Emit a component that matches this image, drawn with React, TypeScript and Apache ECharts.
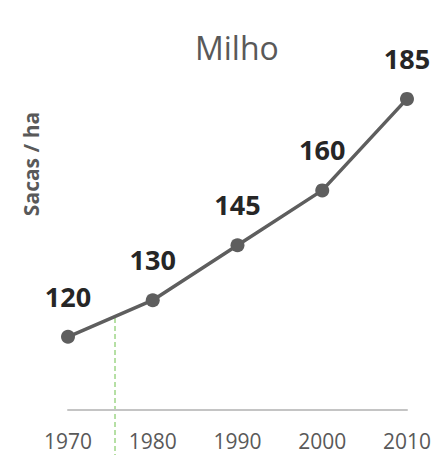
import React, { useEffect, useRef } from "react";
import * as echarts from "echarts";

const years = ["1970", "1980", "1990", "2000", "2010"];
const yields = [120, 130, 145, 160, 185];
const titleText = "Milho";
const yAxisTitle = "Sacas / ha";

export default function App() {
  const ref = useRef<HTMLDivElement>(null);
  useEffect(() => {
    if (!ref.current) return;
    const chart = echarts.init(ref.current, undefined, { renderer: "svg" });
    const font = "'Open Sans', 'Liberation Sans', sans-serif";
    chart.setOption({
      animation: false,
      backgroundColor: "#ffffff",
      title: {
        text: titleText,
        left: 190,
        top: 26,
        textStyle: { fontFamily: font, fontSize: 32, fontWeight: "normal", color: "#595959" },
      },
      grid: { left: 68, right: 23, top: 44, bottom: 45, containLabel: false },
      xAxis: {
        type: "category",
        data: years,
        boundaryGap: false,
        axisLine: { show: true, lineStyle: { color: "#c4c4c4", width: 2 } },
        axisTick: { show: false },
        axisLabel: { fontFamily: font, fontSize: 21, color: "#595959", margin: 20 },
        splitLine: { show: false },
      },
      yAxis: {
        type: "value",
        min: 100,
        max: 200,
        show: false,
        splitLine: { show: false },
      },
      graphic: [
        {
          type: "text",
          x: 31,
          y: 164,
          rotation: Math.PI / 2,
          style: {
            text: yAxisTitle,
            fontFamily: font,
            fontSize: 21,
            fontWeight: "bold",
            fill: "#595959",
            align: "center",
            verticalAlign: "middle",
          },
        },
        {
          type: "line",
          shape: { x1: 115, y1: 318, x2: 115, y2: 455 },
          style: { stroke: "#6cc04a", lineWidth: 1, lineDash: [5, 3] },
          z: 0,
        },
      ],
      series: [
        {
          type: "line",
          data: yields,
          symbol: "circle",
          symbolSize: 14,
          lineStyle: { color: "#5e5e5e", width: 3.5 },
          itemStyle: { color: "#5e5e5e" },
          label: {
            show: true,
            position: "top",
            distance: 20,
            fontFamily: font,
            fontSize: 27,
            fontWeight: "bold",
            color: "#262626",
          },
          z: 3,
        },
      ],
    });
    return () => chart.dispose();
  }, []);
  return <div ref={ref} style={{ width: 434, height: 455, position: "absolute", left: 0, top: 0 }} />;
}
